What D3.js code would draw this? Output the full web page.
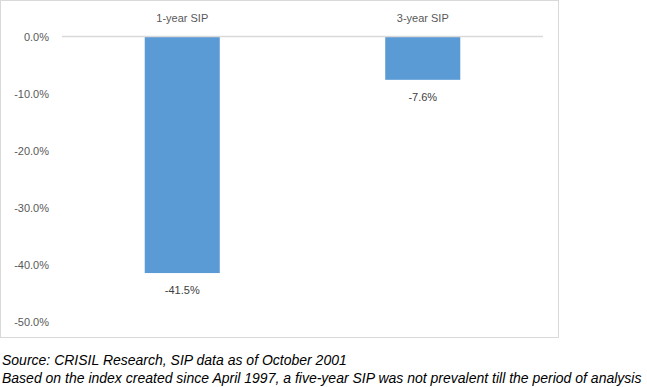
<!DOCTYPE html>
<html>
<head>
<meta charset="utf-8">
<script src="https://cdn.jsdelivr.net/npm/d3@7"></script>
<style>
  body { margin: 0; background: #fff; }
  svg { display: block; }
</style>
</head>
<body>
<script>
// chart data
const categories = ["1-year SIP", "3-year SIP"];
const values = [-41.5, -7.6];
const yTicks = [0, -10, -20, -30, -40, -50];
const notes = [
  "Source: CRISIL Research, SIP data as of October 2001",
  "Based on the index created since April 1997, a five-year SIP was not prevalent till the period of analysis"
];

const W = 647, H = 387;
const plot = {left: 62, right: 543, top: 36.5, bottom: 321.5};

// excel style percent, plain hyphen for minus
const pct = d => d3.format(".1f")(d).replace("\u2212", "-") + "%";

const svg = d3.select("body").append("svg")
  .attr("width", W)
  .attr("height", H);

// outer chart border
svg.append("rect")
  .attr("x", 0.5).attr("y", 0.5)
  .attr("width", 558).attr("height", 337)
  .attr("fill", "#fff")
  .attr("stroke", "#d9d9d9");

const x = d3.scaleBand()
  .domain(categories)
  .range([plot.left, plot.right])
  .padding(0);

const y = d3.scaleLinear()
  .domain([0, -50])
  .range([plot.top, plot.bottom]);

// y tick labels
const yAxis = svg.append("g")
  .attr("transform", "translate(" + plot.left + ",0)")
  .call(d3.axisLeft(y).tickValues(yTicks).tickSize(0).tickPadding(13)
    .tickFormat(pct));
yAxis.select(".domain").remove();
yAxis.selectAll("text")
  .attr("fill", "#595959")
  .style("font-family", "'Liberation Sans', Arial, sans-serif")
  .style("font-size", "11px");

const bw = x.bandwidth() * 0.312;

svg.selectAll(".bar").data(values)
  .enter().append("rect")
    .attr("class", "bar")
    .attr("x", (d, i) => x(categories[i]) + (x.bandwidth() - bw) / 2)
    .attr("y", y(0))
    .attr("width", bw)
    .attr("height", d => y(d) - y(0))
    .attr("fill", "#5b9bd5");

// zero line
svg.append("line")
  .attr("x1", plot.left).attr("x2", plot.right)
  .attr("y1", y(0)).attr("y2", y(0))
  .attr("stroke", "#d9d9d9")
  .attr("stroke-width", 1.5);

// category labels on top
svg.selectAll(".cat").data(categories)
  .enter().append("text")
    .attr("class", "cat")
    .attr("x", d => x(d) + x.bandwidth() / 2)
    .attr("y", 22)
    .attr("text-anchor", "middle")
    .attr("fill", "#595959")
    .style("font-family", "'Liberation Sans', Arial, sans-serif")
    .style("font-size", "11px")
    .text(d => d);

// value labels
svg.selectAll(".val").data(values)
  .enter().append("text")
    .attr("class", "val")
    .attr("x", (d, i) => x(categories[i]) + x.bandwidth() / 2)
    .attr("y", d => y(d) + 21)
    .attr("text-anchor", "middle")
    .attr("fill", "#404040")
    .style("font-family", "'Liberation Sans', Arial, sans-serif")
    .style("font-size", "11px")
    .text(pct);

// footnotes
svg.selectAll(".note").data(notes)
  .enter().append("text")
    .attr("class", "note")
    .attr("x", 2)
    .attr("y", (d, i) => 365 + i * 17.5)
    .attr("fill", "#000")
    .style("font-family", "'Liberation Sans', Arial, sans-serif")
    .style("font-size", "14px")
    .style("font-style", "italic")
    .text(d => d);
</script>
</body>
</html>
